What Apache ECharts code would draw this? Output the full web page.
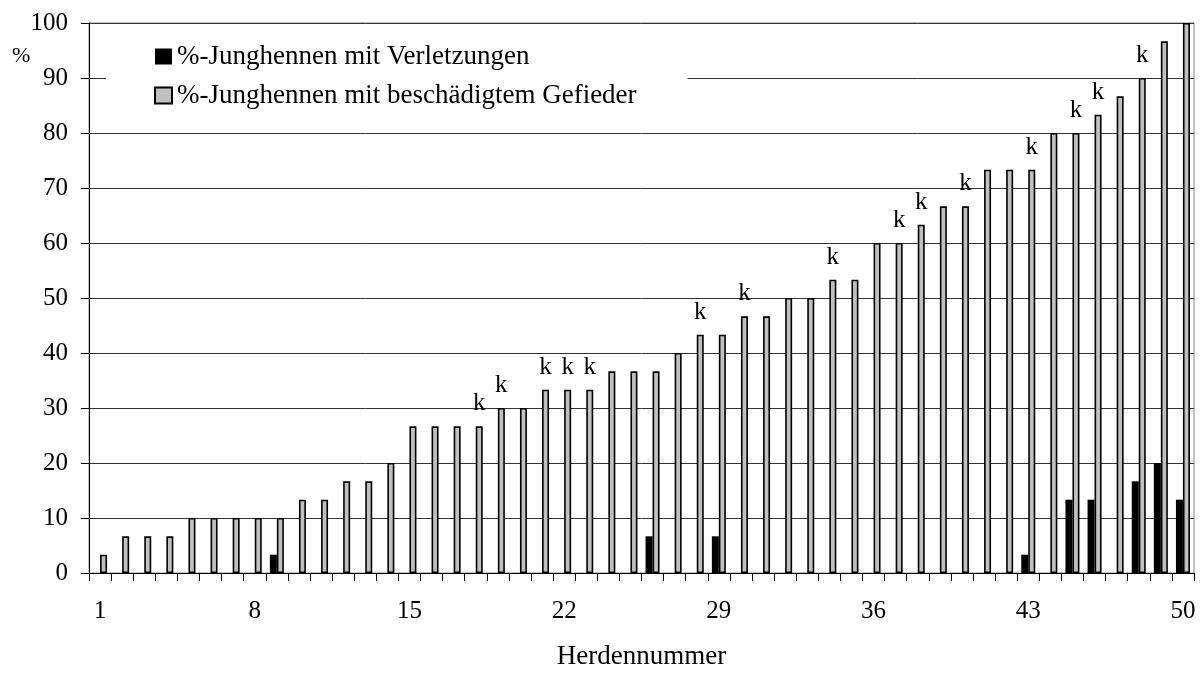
<!DOCTYPE html>
<html>
<head>
<meta charset="utf-8">
<script src="https://cdn.jsdelivr.net/npm/echarts@6/dist/echarts.min.js"></script>
<style>html,body{margin:0;padding:0;background:#fff;}#c{width:1204px;height:675px;}</style>
</head>
<body>
<div id="c"></div>
<script>
// Herd numbers 1..50
var herds = [1,2,3,4,5,6,7,8,9,10,11,12,13,14,15,16,17,18,19,20,21,22,23,24,25,26,27,28,29,30,31,32,33,34,35,36,37,38,39,40,41,42,43,44,45,46,47,48,49,50];
// % pullets with injuries (black)
var injuries = [0,0,0,0,0,0,0,0,3.33,0,0,0,0,0,0,0,0,0,0,0,0,0,0,0,0,6.67,0,0,6.67,0,0,0,0,0,0,0,0,0,0,0,0,0,3.33,0,13.33,13.33,0,16.67,20,13.33];
// % pullets with damaged plumage (grey)
var plumage = [3.33,6.67,6.67,6.67,10,10,10,10,10,13.33,13.33,16.67,16.67,20,26.67,26.67,26.67,26.67,30,30,33.33,33.33,33.33,36.67,36.67,36.67,40,43.33,43.33,46.67,46.67,50,50,53.33,53.33,60,60,63.33,66.67,66.67,73.33,73.33,73.33,80,80,83.33,86.67,90,96.67,100];
// herds marked with "k"
var kHerds = [18,19,21,22,23,28,30,34,37,38,40,43,45,46,48];
var seriesNames = ['%-Junghennen mit Verletzungen', '%-Junghennen mit beschädigtem Gefieder'];
var yTicks = [0,10,20,30,40,50,60,70,80,90,100];

var FONT = 'Liberation Serif';
var chart = echarts.init(document.getElementById('c'), null, {renderer: 'canvas'});

var plumageData = plumage.map(function (v, i) {
  var item = {value: v};
  if (kHerds.indexOf(herds[i]) >= 0) item.label = {show: true};
  return item;
});

chart.setOption({
  animation: false,
  backgroundColor: '#fff',
  grid: {left: 89, right: 10, top: 23, bottom: 96, show: true, borderColor: '#888', borderWidth: 1, backgroundColor: 'transparent'},
  legend: {
    data: seriesNames,
    orient: 'vertical',
    left: 106, top: 33,
    padding: [10, 51, 10, 48],
    backgroundColor: '#fff',
    itemWidth: 17, itemHeight: 16, itemGap: 12,
    icon: 'rect',
    textStyle: {fontFamily: FONT, fontSize: 27, color: '#000'}
  },
  graphic: [{
    type: 'text', left: 12, top: 45,
    style: {text: '%', fontFamily: FONT, fontSize: 22, fill: '#000'}
  }],
  xAxis: {
    type: 'category',
    data: herds,
    boundaryGap: true,
    name: 'Herdennummer',
    nameLocation: 'middle',
    nameGap: 70,
    nameTextStyle: {fontFamily: FONT, fontSize: 27, color: '#000'},
    axisLine: {lineStyle: {color: '#000', width: 1}},
    axisTick: {show: true, interval: 0, length: 8, lineStyle: {color: '#000'}},
    axisLabel: {interval: 6, margin: 26, fontFamily: FONT, fontSize: 25, color: '#000'},
    splitLine: {show: false}
  },
  yAxis: {
    type: 'value',
    min: 0, max: 100, interval: 10,
    axisLine: {show: true, lineStyle: {color: '#000', width: 1}},
    axisTick: {show: true, length: 8, lineStyle: {color: '#000'}},
    axisLabel: {margin: 21, fontFamily: FONT, fontSize: 25, color: '#000',
      formatter: function (v) { return yTicks.indexOf(v) >= 0 ? String(v) : ''; }},
    splitLine: {show: true, lineStyle: {color: '#333', width: 1}}
  },
  series: [
    {
      name: seriesNames[0],
      type: 'bar',
      data: injuries,
      barWidth: 7,
      barGap: '0%',
      itemStyle: {color: '#000', borderColor: '#000', borderWidth: 0}
    },
    {
      name: seriesNames[1],
      type: 'bar',
      data: plumageData,
      barWidth: 7,
      barGap: '0%',
      itemStyle: {color: '#c0c0c0', borderColor: '#000', borderWidth: 1.6},
      label: {show: false, position: 'top', distance: 10, formatter: 'k',
        fontFamily: FONT, fontSize: 25, color: '#000'}
    }
  ]
});
</script>
</body>
</html>
